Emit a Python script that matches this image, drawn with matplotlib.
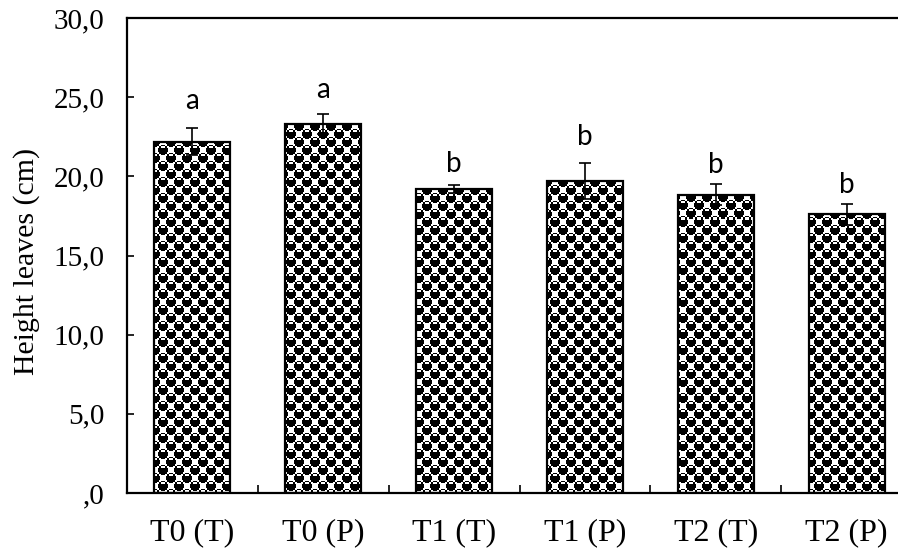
import numpy as np
import matplotlib
matplotlib.use("Agg")
import matplotlib.pyplot as plt

# Data
categories = ["T0 (T)", "T0 (P)", "T1 (T)", "T1 (P)", "T2 (T)", "T2 (P)"]
heights = [22.2, 23.3, 19.2, 19.7, 18.85, 17.6]
errors = [0.85, 0.62, 0.25, 1.12, 0.66, 0.67]
groups = ["a", "a", "b", "b", "b", "b"]
group_label_y = [24.25, 24.95, 20.3, 22.0, 20.2, 18.95]
yticks = [0, 5, 10, 15, 20, 25, 30]
ytick_labels = [",0", "5,0", "10,0", "15,0", "20,0", "25,0", "30,0"]

W, H = 898, 548
fig = plt.figure(figsize=(W / 100, H / 100), dpi=100)
ax_left, ax_bottom, ax_w, ax_h = 127, 55, 785, 475
ax = fig.add_axes([ax_left / W, ax_bottom / H, ax_w / W, ax_h / H])

x = np.arange(len(categories))
ax.set_xlim(-0.5, len(categories) - 0.5)
ax.set_ylim(0, 30)

bars = ax.bar(x, heights, width=0.58, facecolor="white", edgecolor="black",
              linewidth=1.6, zorder=3)

# Dotted checkerboard fill texture, one pixel per image cell
yy, xx = np.mgrid[0:ax_h, 0:ax_w]
cell = 8
black = ((xx // cell + yy // cell) % 2) == 0
X = xx - cell / 2 + 0.5
Y = yy - cell / 2 + 0.5
a = np.round((X + Y) / (2 * cell))
b = np.round((X - Y) / (2 * cell))
cx = cell * (a + b)
cy = cell * (a - b)
dx = X - cx
dy = Y - cy
black |= (dx ** 2 + dy ** 2) <= 4.9 ** 2
dash = (dy >= -3.6) & (dy <= -2.4) & (dx >= -2) & (dx <= 1.5)
black &= ~dash
tex = np.where(black, 0.0, 1.0)

for bar in bars:
    im = ax.imshow(tex, cmap="gray", vmin=0, vmax=1, interpolation="nearest",
                   extent=(-0.5, len(categories) - 0.5, 0, 30), origin="upper",
                   aspect="auto", zorder=2)
    im.set_clip_path(bar)
for bar in bars:
    bar.set_facecolor("none")

ax.errorbar(x, heights, yerr=errors, fmt="none", ecolor="black",
            elinewidth=1.2, capsize=4.3, capthick=1.2, zorder=4)

for xi, g, gy in zip(x, groups, group_label_y):
    ax.text(xi, gy, g, ha="center", va="baseline", fontsize=20,
            family="Lato", color="black", zorder=5)

# Axes styling
serif = "Liberation Serif"
ax.set_yticks(yticks)
ax.set_yticklabels(ytick_labels, fontsize=21, family=serif)
ax.set_xticks(x)
ax.set_xticklabels(categories, fontsize=23, family=serif)
ax.set_xticks(np.arange(len(categories) + 1) - 0.5, minor=True)
ax.tick_params(axis="x", which="major", length=0, pad=18)
ax.tick_params(axis="x", which="minor", direction="in", length=6, width=1.2)
ax.tick_params(axis="y", direction="in", length=5, width=1.2, pad=16)

for side in ("left", "top", "bottom"):
    ax.spines[side].set_linewidth(1.6)
ax.spines["right"].set_visible(False)

fig.text(27 / W, 1 - 261 / H, "Height leaves (cm)", rotation=90,
         ha="center", va="center", fontsize=21.5, family=serif)

fig.savefig("out.png", dpi=100)
